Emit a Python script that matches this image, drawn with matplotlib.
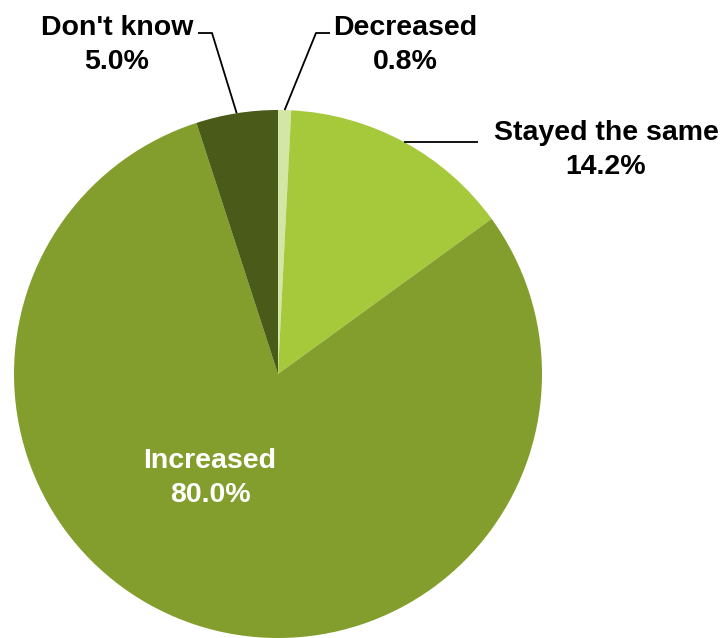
import numpy as np
import matplotlib.pyplot as plt

categories = ['Decreased', 'Stayed the same', 'Increased', "Don't know"]
values = [0.8, 14.2, 80.0, 5.0]
colors = ['#D4E6A5', '#A5C93A', '#839E2C', '#4A5A19']

W, H = 727, 638
fig = plt.figure(figsize=(W / 100, H / 100), dpi=100)
ax = fig.add_axes([0, 0, 1, 1])

cx, cy, r = 278, 264, 264
wedges, _ = ax.pie(values, colors=colors, startangle=90, counterclock=False,
                   center=(cx, cy), radius=r, frame=True,
                   wedgeprops=dict(linewidth=0))
ax.set_xlim(0, W)
ax.set_ylim(0, H)
ax.set_aspect('equal')
ax.axis('off')

font = dict(family='Liberation Sans', weight='bold', fontsize=20.5)

def arc_point(w):
    ang = np.deg2rad((w.theta1 + w.theta2) / 2)
    return cx + r * np.cos(ang), cy + r * np.sin(ang)

# label text positions (pixel coords, y up)
label_pos = {
    'Decreased': (405, 593),
    'Stayed the same': (606, 488),
    "Don't know": (117, 593),
}

for w, cat, v in zip(wedges, categories, values):
    txt = f'{cat}\n{v:.1f}%'
    if cat == 'Increased':
        ax.text(210, 160, txt, color='white', ha='center', va='center',
                linespacing=1.4, **font)
        continue
    tx, ty = label_pos[cat]
    ax.text(tx, ty, txt, color='black', ha='center', va='center',
            linespacing=1.4, **font)
    px, py = arc_point(w)
    if cat == 'Decreased':
        xs, ys = [px, 316, 330], [py, 605, 605]
    elif cat == "Don't know":
        xs, ys = [px, 212, 198], [py, 605, 605]
    else:
        xs, ys = [px, 478], [py, py]
    ax.plot(xs, ys, color='black', lw=1.3, solid_capstyle='butt')

fig.savefig('out.png', dpi=100)
